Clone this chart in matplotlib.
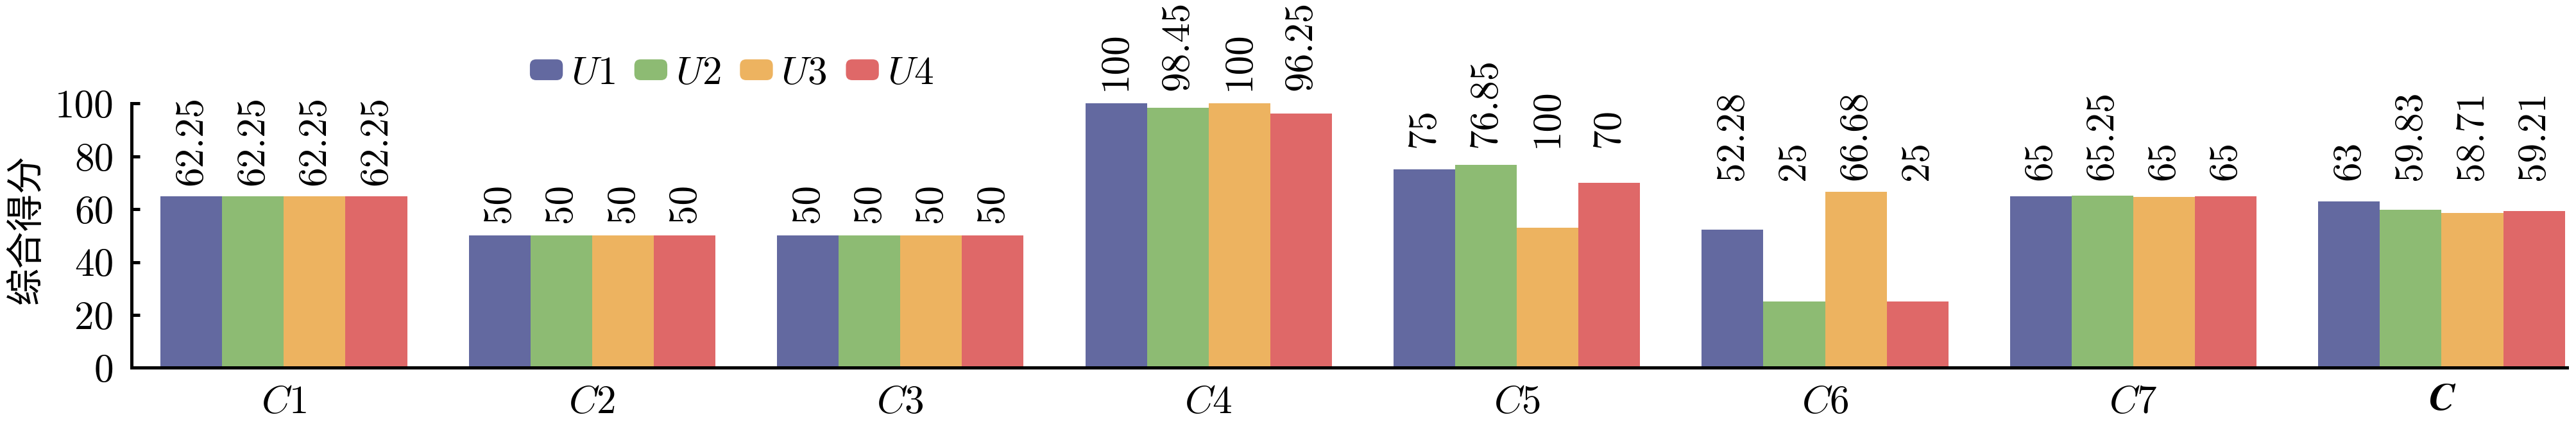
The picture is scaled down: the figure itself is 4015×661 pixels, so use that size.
import matplotlib
matplotlib.use('Agg')
import matplotlib.pyplot as plt
import numpy as np
from matplotlib.patches import FancyBboxPatch, Rectangle
from matplotlib.legend_handler import HandlerPatch

# ---- data ----
categories = ['$C1$', '$C2$', '$C3$', '$C4$', '$C5$', '$C6$', '$C7$', 'C']
series_names = ['$U1$', '$U2$', '$U3$', '$U4$']

u1 = [65, 50, 50, 100, 75, 52.28, 65, 63]
u2 = [65, 50, 50, 98.45, 76.85, 25, 65.25, 59.83]
u3 = [65, 50, 50, 100, 53, 66.68, 64.6, 58.71]
u4 = [65, 50, 50, 96.25, 70, 25, 65, 59.21]

u1_labels = ['62.25', '50', '50', '100', '75', '52.28', '65', '63']
u2_labels = ['62.25', '50', '50', '98.45', '76.85', '25', '65.25', '59.83']
u3_labels = ['62.25', '50', '50', '100', '100', '66.68', '65', '58.71']
u4_labels = ['62.25', '50', '50', '96.25', '70', '25', '65', '59.21']

y_ticks = [0, 20, 40, 60, 80, 100]

# ---- layout / style ----
label_base = [69, 55, 55, 105, 83.4, 71, 71, 71]
colors = ['#6369A0', '#8DBB73', '#EDB360', '#DF6868']

plt.rcParams['mathtext.fontset'] = 'cm'
FS = 44

fig = plt.figure(figsize=(40.16, 6.61), dpi=100)
ax = fig.add_axes([0.05105, 0.1327, 0.99627 - 0.05105, 0.7557 - 0.1327])

series = [u1, u2, u3, u4]
labels = [u1_labels, u2_labels, u3_labels, u4_labels]
x = np.arange(len(categories))
w = 0.2
for i, (vals, labs, c) in enumerate(zip(series, labels, colors)):
    xs = x + (i - 1.5) * w
    ax.bar(xs, vals, width=w, color=c, edgecolor='none', linewidth=0)
    for xi, lb, base in zip(xs, labs, label_base):
        ax.text(xi, base, lb, rotation=90, ha='center', va='bottom',
                fontsize=FS, family='cmr10')

ax.set_xlim(-0.494, 7.407)
ax.set_ylim(0, 100)
ax.set_yticks(y_ticks)
ax.set_yticklabels([str(t) for t in y_ticks], family='cmr10', fontsize=FS)
ax.set_xticks(x)
ax.set_xticklabels(categories, fontsize=FS)
xtl = ax.get_xticklabels()
xtl[-1].set_family('STIXGeneral')
xtl[-1].set_weight('bold')
xtl[-1].set_style('italic')

for s in ['top', 'right']:
    ax.spines[s].set_visible(False)
for s in ['left', 'bottom']:
    ax.spines[s].set_linewidth(3.6)
ax.tick_params(axis='y', direction='in', length=9.5, width=3.6, pad=20)
ax.tick_params(axis='x', length=0, pad=18)

fig.text(0.01033, 0.4592, '综合得分', rotation=90, ha='center', va='center',
         fontsize=42, family=['Noto Sans CJK SC', 'DejaVu Sans'])


class HandlerRound(HandlerPatch):
    def create_artists(self, legend, orig_handle, xdescent, ydescent,
                       width, height, fontsize, trans):
        p = FancyBboxPatch((-xdescent, -ydescent), width, height,
                           boxstyle=f"round,pad=0,rounding_size={height * 0.3}",
                           facecolor=orig_handle.get_facecolor(),
                           edgecolor='none', transform=trans)
        return [p]


handles = [Rectangle((0, 0), 1, 1, facecolor=c) for c in colors]
fig.legend(handles, series_names, loc='center', bbox_to_anchor=(0.284, 0.8275),
           ncol=4, frameon=False, fontsize=FS, handlelength=0.84,
           handleheight=0.44, handletextpad=0.21, columnspacing=0.48,
           borderpad=0, handler_map={Rectangle: HandlerRound()})

fig.savefig('out.png', dpi=100)
